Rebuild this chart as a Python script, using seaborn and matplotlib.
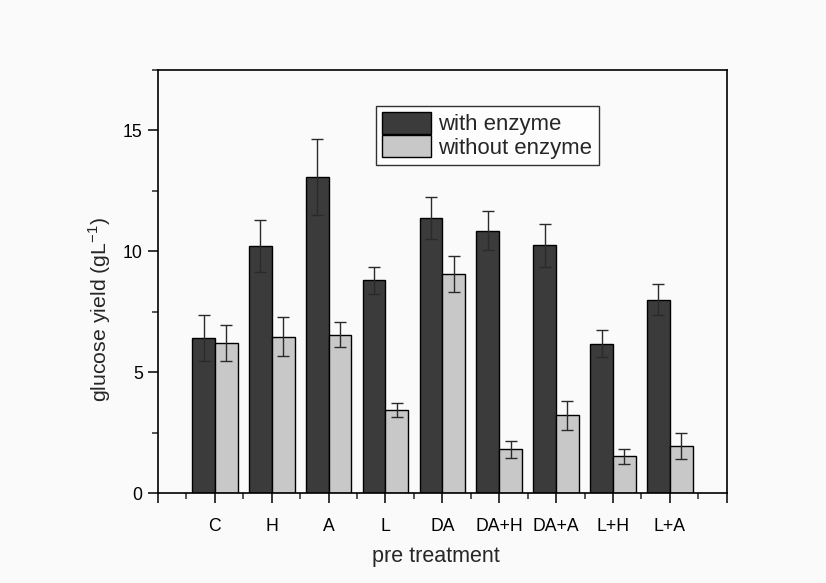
import numpy as np
import pandas as pd
import matplotlib
matplotlib.use("Agg")
import matplotlib.pyplot as plt
import seaborn as sns
from matplotlib.ticker import MultipleLocator, FixedLocator

categories = ["C", "H", "A", "L", "DA", "DA+H", "DA+A", "L+H", "L+A"]
with_enzyme = [6.42, 10.21, 13.07, 8.80, 11.38, 10.85, 10.25, 6.19, 8.01]
with_enzyme_err = [0.96, 1.07, 1.57, 0.55, 0.87, 0.80, 0.88, 0.54, 0.66]
without_enzyme = [6.21, 6.48, 6.55, 3.45, 9.07, 1.82, 3.22, 1.53, 1.95]
without_enzyme_err = [0.75, 0.81, 0.51, 0.30, 0.75, 0.36, 0.59, 0.30, 0.55]
series_names = ["with enzyme", "without enzyme"]

df = pd.DataFrame({
    "pre treatment": categories * 2,
    "value": with_enzyme + without_enzyme,
    "series": [series_names[0]] * len(categories) + [series_names[1]] * len(categories),
})
errs = {series_names[0]: with_enzyme_err, series_names[1]: without_enzyme_err}

sns.set_theme(style="ticks")
plt.rcParams["font.family"] = ["Liberation Sans", "DejaVu Sans"]
plt.rcParams["mathtext.fontset"] = "custom"
plt.rcParams["mathtext.rm"] = "Liberation Sans"

bg = "#fafafa"
fig = plt.figure(figsize=(8.26, 5.83), dpi=100, facecolor=bg)
ax = fig.add_axes([0.1913, 0.1539, 0.6885, 0.7261])
ax.set_facecolor(bg)

sns.barplot(data=df, x="pre treatment", y="value", hue="series",
            palette=["#3b3b3b", "#c8c8c8"], edgecolor="black", linewidth=1.0,
            width=0.8, errorbar=None, ax=ax, saturation=1)

for cont, name in zip(ax.containers, series_names):
    xs = [p.get_x() + p.get_width() / 2 for p in cont.patches]
    ys = [p.get_height() for p in cont.patches]
    ax.errorbar(xs, ys, yerr=errs[name], fmt="none", ecolor="#2a2a2a",
                elinewidth=1.0, capsize=4, capthick=1.0, zorder=5)

ax.set_xlim(-1, 9)
ax.set_ylim(0, 17.5)
ax.xaxis.set_major_locator(FixedLocator(list(range(-1, 10))))
ax.set_xticklabels([""] + categories + [""])
ax.xaxis.set_minor_locator(FixedLocator([i + 0.5 for i in range(-1, 9)]))
ax.yaxis.set_major_locator(FixedLocator([0, 5, 10, 15]))
ax.yaxis.set_minor_locator(MultipleLocator(2.5))

for s in ax.spines.values():
    s.set_visible(True)
    s.set_linewidth(1.2)
    s.set_color("black")

ax.tick_params(axis="both", which="major", direction="out", length=7, width=1.1,
               labelsize=12.7, colors="black")
ax.tick_params(axis="x", which="major", pad=11)
ax.tick_params(axis="y", which="major", pad=4)
ax.tick_params(axis="both", which="minor", direction="out", length=4, width=1.1)
ax.tick_params(top=False, right=False, which="both")

ax.set_xlabel("pre treatment", fontsize=15.5, labelpad=6)
ax.xaxis.set_label_coords(0.489, -0.125)
ax.set_ylabel("glucose yield (gL$^{\\mathregular{-1}}$)", fontsize=15.3)
ax.yaxis.set_label_coords(-0.08, 0.433)

leg = ax.legend(loc="upper left", bbox_to_anchor=(0.383, 0.915), borderaxespad=0,
                fontsize=15.9, frameon=True, fancybox=False, handlelength=2.2,
                handleheight=1.14, labelspacing=0.0, borderpad=0.28,
                handletextpad=0.35)
leg.get_frame().set_edgecolor("black")
leg.get_frame().set_linewidth(1.0)
leg.get_frame().set_facecolor("white")
for h in leg.legend_handles:
    h.set_edgecolor("black")

fig.savefig("out.png", dpi=100, facecolor=bg)
